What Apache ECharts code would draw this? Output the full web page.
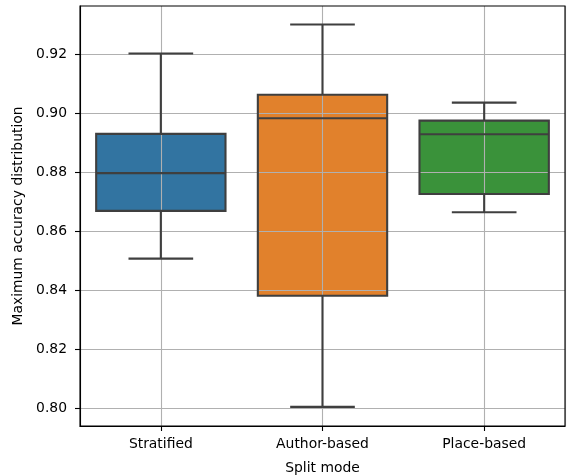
<!DOCTYPE html>
<html><head><meta charset="utf-8">
<script src="https://cdn.jsdelivr.net/npm/echarts@6/dist/echarts.min.js"></script>
<style>html,body{margin:0;padding:0;background:#fff}#c{width:569px;height:475px}</style>
</head><body><div id="c"></div>
<script>
const categories = ['Stratified', 'Author-based', 'Place-based'];
// [lower whisker, Q1, median, Q3, upper whisker]
const stratified = [0.8507, 0.8669, 0.8797, 0.8930, 0.9203];
const authorBased = [0.8004, 0.8381, 0.8983, 0.9063, 0.9301];
const placeBased = [0.8664, 0.8726, 0.8929, 0.8975, 0.9036];
const yTicks = [0.80, 0.82, 0.84, 0.86, 0.88, 0.90, 0.92];
const colors = ['#3274a1', '#e1812c', '#3a923a'];

const stats = [stratified, authorBased, placeBased];
const data = stats.map((s, i) => [i].concat(s));
const edge = '#3f3f3f';
// half-bands used only to place vertical gridlines at category centres
const halfBands = categories.flatMap(c => [c + '-a', c + '-b']);

function boxFill(params, api) {
  const i = api.value(0);
  const q1 = api.coord([i, api.value(2)]);
  const q3 = api.coord([i, api.value(4)]);
  const band = api.size([1, 0])[0];
  const w = band * 0.8;
  return {
    type: 'rect',
    shape: { x: q1[0] - w / 2, y: q3[1], width: w, height: q1[1] - q3[1] },
    style: { fill: colors[i], stroke: null }
  };
}
function boxLines(params, api) {
  const i = api.value(0);
  const lo = api.coord([i, api.value(1)]);
  const q1 = api.coord([i, api.value(2)]);
  const med = api.coord([i, api.value(3)]);
  const q3 = api.coord([i, api.value(4)]);
  const hi = api.coord([i, api.value(5)]);
  const band = api.size([1, 0])[0];
  const w = band * 0.8, c = band * 0.4, x = q1[0];
  const ls = { stroke: edge, lineWidth: 2.1, fill: null };
  return {
    type: 'group',
    children: [
      { type: 'rect', shape: { x: x - w / 2, y: q3[1], width: w, height: q1[1] - q3[1] }, style: ls },
      { type: 'line', shape: { x1: x - w / 2, y1: med[1], x2: x + w / 2, y2: med[1] }, style: ls },
      { type: 'line', shape: { x1: x, y1: q3[1], x2: x, y2: hi[1] }, style: ls },
      { type: 'line', shape: { x1: x, y1: q1[1], x2: x, y2: lo[1] }, style: ls },
      { type: 'line', shape: { x1: x - c / 2, y1: hi[1], x2: x + c / 2, y2: hi[1] }, style: ls },
      { type: 'line', shape: { x1: x - c / 2, y1: lo[1], x2: x + c / 2, y2: lo[1] }, style: ls }
    ]
  };
}

const font = 'DejaVu Sans';
const chart = echarts.init(document.getElementById('c'), null, { renderer: 'canvas' });
chart.setOption({
  animation: false,
  backgroundColor: '#fff',
  grid: { left: 80, right: 4, top: 6, bottom: 49, show: true, borderColor: '#000', borderWidth: 1.1, z: 4,
    outerBoundsMode: 'none', containLabel: false },
  xAxis: [{
    type: 'category', data: categories, z: 3,
    name: 'Split mode', nameLocation: 'middle', nameGap: 35,
    nameTextStyle: { fontFamily: font, fontSize: 13.9, color: '#000' },
    axisLine: { show: true, lineStyle: { color: '#000', width: 1.1 } },
    axisTick: { show: true, alignWithLabel: true, length: 5, lineStyle: { color: '#000', width: 1.1 } },
    axisLabel: { fontFamily: font, fontSize: 13.9, color: '#000', margin: 11 },
    splitLine: { show: false }
  }, {
    type: 'category', data: halfBands, position: 'bottom', z: 3,
    axisLine: { show: false }, axisTick: { show: false }, axisLabel: { show: false },
    splitLine: { show: true, interval: (idx) => idx % 2 === 1, lineStyle: { color: '#b0b0b0', width: 1.1 } }
  }],
  yAxis: {
    type: 'value', min: 0.7939, max: 0.9364, z: 3,
    name: 'Maximum accuracy distribution', nameLocation: 'middle', nameGap: 55,
    nameTextStyle: { fontFamily: font, fontSize: 13.9, color: '#000' },
    axisLine: { show: true, lineStyle: { color: '#000', width: 1.1 } },
    axisTick: { show: true, length: 5, customValues: yTicks, lineStyle: { color: '#000', width: 1.1 } },
    axisLabel: { fontFamily: font, fontSize: 13.9, color: '#000', margin: 13, customValues: yTicks,
      formatter: v => v.toFixed(2) },
    splitLine: { show: true, lineStyle: { color: '#b0b0b0', width: 1.1 } }
  },
  series: [
    { type: 'custom', z: 1, xAxisIndex: 0, data: data, renderItem: boxFill, encode: { x: 0, y: [1, 2, 3, 4, 5] } },
    { type: 'custom', z: 5, xAxisIndex: 0, data: data, renderItem: boxLines, encode: { x: 0, y: [1, 2, 3, 4, 5] } }
  ]
});
</script></body></html>
